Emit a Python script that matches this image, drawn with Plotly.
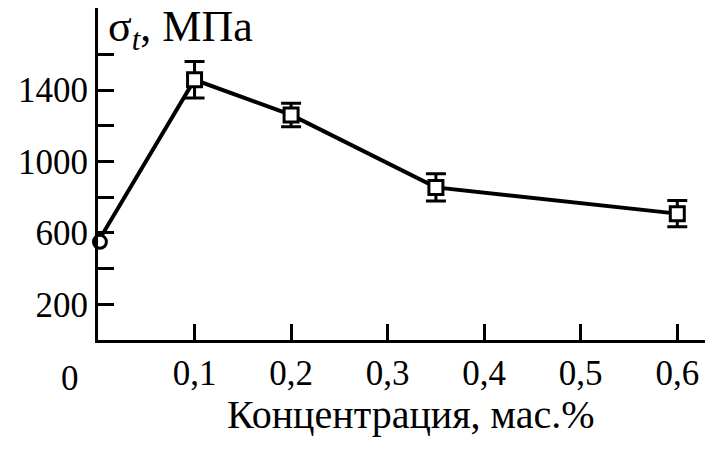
import plotly.graph_objects as go

conc = [0.0, 0.1, 0.2, 0.35, 0.6]
sigma = [550, 1458, 1261, 855, 708]
err_conc = [0.1, 0.2, 0.35, 0.6]
err_sigma = [1458, 1261, 855, 708]
err_val = [102, 66, 76, 74]

x_ticks = [0.1, 0.2, 0.3, 0.4, 0.5, 0.6]
x_ticktext = ["0,1", "0,2", "0,3", "0,4", "0,5", "0,6"]
y_ticks = [200, 400, 600, 800, 1000, 1200, 1400, 1600]
y_ticktext = ["200", "", "600", "", "1000", "", "1400", ""]

FONT = "Liberation Serif"
FS = 35

# page body has an 8px margin, so the figure is offset by 8px right/down
fig = go.Figure()
fig.add_trace(go.Scatter(x=conc, y=sigma, mode="lines",
                         line=dict(color="black", width=4), hoverinfo="skip"))
fig.add_trace(go.Scatter(x=err_conc, y=err_sigma, mode="markers",
                         marker=dict(symbol="square", size=14, color="white",
                                     line=dict(color="black", width=3)),
                         error_y=dict(type="data", array=err_val, visible=True,
                                      color="black", thickness=3, width=10)))
fig.add_trace(go.Scatter(x=[0.002], y=[sigma[0]], mode="markers",
                         marker=dict(symbol="circle", size=13, color="white",
                                     line=dict(color="black", width=3)),
                         cliponaxis=False))

fig.update_layout(
    width=705, height=442,
    margin=dict(l=90, r=0, t=0, b=110, autoexpand=False),
    paper_bgcolor="white", plot_bgcolor="white",
    showlegend=False,
    font=dict(family=FONT, size=FS, color="black"),
    xaxis=dict(range=[0, 0.637], tickvals=x_ticks, ticktext=x_ticktext,
               ticks="inside", ticklen=16, tickwidth=3, tickcolor="black",
               showline=True, linecolor="black", linewidth=3,
               showgrid=False, zeroline=False, automargin=False,
               ticklabelstandoff=0,
               tickfont=dict(family=FONT, size=FS, color="black")),
    yaxis=dict(range=[0, 1860], tickvals=y_ticks, ticktext=y_ticktext,
               ticks="inside", ticklen=16, tickwidth=3, tickcolor="black",
               showline=True, linecolor="black", linewidth=3,
               showgrid=False, zeroline=False, automargin=False,
               ticklabelstandoff=0,
               tickfont=dict(family=FONT, size=FS, color="black")),
)

fig.add_annotation(text="Концентрация, мас.%", xref="paper", yref="paper",
                   x=(410 - 98) / 615, y=-(414 - 340) / 332,
                   xanchor="center", yanchor="middle", showarrow=False,
                   font=dict(family=FONT, size=40, color="black"))
fig.add_annotation(text="σ<sub><i>t</i></sub>, МПа", xref="paper", yref="paper",
                   x=(106 - 98) / 615, y=1 - (29 - 8) / 332,
                   xanchor="left", yanchor="middle", showarrow=False,
                   font=dict(family=FONT, size=44, color="black"))
fig.add_annotation(text="0", xref="paper", yref="paper",
                   x=(70 - 98) / 615, y=-(379 - 340) / 332,
                   xanchor="center", yanchor="middle", showarrow=False,
                   font=dict(family=FONT, size=FS, color="black"))

fig.write_html("out.html")
